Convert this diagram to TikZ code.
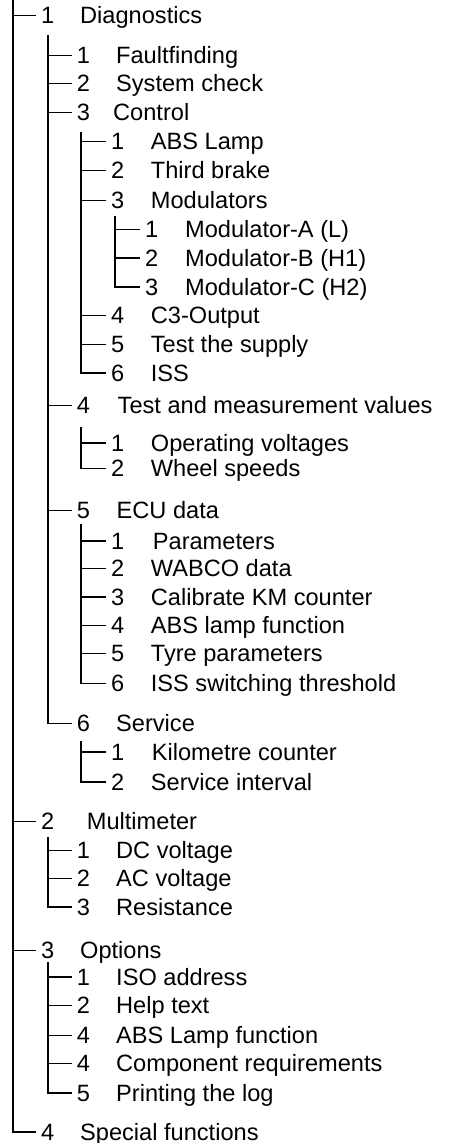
\documentclass[tikz,border=0pt]{standalone}
\usepackage{fontspec}
\setmainfont{Liberation Sans}
\begin{document}
\begin{tikzpicture}[x=1pt,y=1pt,
  font=\fontsize{23.6pt}{28pt}\selectfont,
  num/.style={anchor=base west, yshift=-8.4pt, inner xsep=5pt, inner ysep=0pt},
  lbl/.style={anchor=base west, yshift=-8.4pt, inner sep=0pt},
  tick/.style={line width=1.3pt},
  vline/.style={line width=2pt, line cap=rect}]
\useasboundingbox (0,0) rectangle (449,-1143);
\newcommand\treeitem[7]{%
  \node[num] (n#1) at (#3,-#5) {#6};
  \node[lbl] (t#1) at (#4,-#5) {#7};
  \draw[tick] (#2 |- n#1.west) -- (n#1.west);
}
% vertical line origins
\coordinate (v0) at (13,2);
\coordinate (vDiag) at (48.3,-36);
\coordinate (vCtrl) at (81,-133);
\coordinate (vMod) at (115,-216.7);
\coordinate (vTest) at (81,-427.7);
\coordinate (vEcu) at (81,-525);
\coordinate (vServ) at (81,-741.7);
\coordinate (vMulti) at (48.3,-837.7);
\coordinate (vOpt) at (48.3,-963);
% level 0
\treeitem{diag}{v0}{36}{80}{15}{1}{Diagnostics}
\treeitem{multi}{v0}{36}{86.7}{821}{2}{Multimeter}
\treeitem{opt}{v0}{36}{80}{950.5}{3}{Options}
\treeitem{spec}{v0}{36}{80}{1131.7}{4}{Special functions}
% under Diagnostics
\treeitem{fault}{vDiag}{71.7}{116}{55}{1}{Faultfinding}
\treeitem{sys}{vDiag}{71.7}{116}{83.5}{2}{System check}
\treeitem{ctrl}{vDiag}{71.7}{113}{112}{3}{Control}
\treeitem{test}{vDiag}{71.7}{117.5}{405}{4}{Test and measurement values}
\treeitem{ecu}{vDiag}{71.7}{116.5}{510}{5}{ECU data}
\treeitem{serv}{vDiag}{71.7}{116}{723}{6}{Service}
% under Control
\treeitem{abs}{vCtrl}{106}{150.7}{141.5}{1}{ABS Lamp}
\treeitem{third}{vCtrl}{106}{150.7}{170}{2}{Third brake}
\treeitem{mod}{vCtrl}{106}{150.7}{200}{3}{Modulators}
\treeitem{c3}{vCtrl}{106}{150.7}{315.3}{4}{C3-Output}
\treeitem{supply}{vCtrl}{106}{150.7}{344}{5}{Test the supply}
\treeitem{iss}{vCtrl}{106}{150.7}{372.7}{6}{ISS}
% under Modulators
\treeitem{ma}{vMod}{140}{185}{229.3}{1}{Modulator-A (L)}
\treeitem{mb}{vMod}{140}{185}{257.7}{2}{Modulator-B (H1)}
\treeitem{mc}{vMod}{140}{185}{286.7}{3}{Modulator-C (H2)}
% under Test and measurement values
\treeitem{opv}{vTest}{106}{150.7}{442.7}{1}{Operating voltages}
\treeitem{wheel}{vTest}{106}{150.7}{468.3}{2}{Wheel speeds}
% under ECU data
\treeitem{par}{vEcu}{106}{152.7}{540.7}{1}{Parameters}
\treeitem{wabco}{vEcu}{106}{150.7}{568}{2}{WABCO data}
\treeitem{calib}{vEcu}{106}{150.7}{596.7}{3}{Calibrate KM counter}
\treeitem{absf}{vEcu}{106}{150.7}{625}{4}{ABS lamp function}
\treeitem{tyre}{vEcu}{106}{150.7}{653.3}{5}{Tyre parameters}
\treeitem{isssw}{vEcu}{106}{150.7}{683}{6}{ISS switching threshold}
% under Service
\treeitem{km}{vServ}{106}{151.7}{751.7}{1}{Kilometre counter}
\treeitem{sint}{vServ}{106}{150.7}{781.7}{2}{Service interval}
% under Multimeter
\treeitem{dc}{vMulti}{71.7}{116}{850}{1}{DC voltage}
\treeitem{ac}{vMulti}{71.7}{116}{878.3}{2}{AC voltage}
\treeitem{res}{vMulti}{71.7}{116}{906.7}{3}{Resistance}
% under Options
\treeitem{iso}{vOpt}{71.7}{116}{976.7}{1}{ISO address}
\treeitem{help}{vOpt}{71.7}{116}{1005}{2}{Help text}
\treeitem{absl}{vOpt}{71.7}{116}{1035}{4}{ABS Lamp function}
\treeitem{comp}{vOpt}{71.7}{116}{1063.3}{4}{Component requirements}
\treeitem{print}{vOpt}{71.7}{116}{1092.7}{5}{Printing the log}
% vertical lines
\draw[vline] (v0) -- (v0 |- nspec.west);
\draw[vline] (vDiag) -- (vDiag |- nserv.west);
\draw[vline] (vCtrl) -- (vCtrl |- niss.west);
\draw[vline] (vMod) -- (vMod |- nmc.west);
\draw[vline] (vTest) -- (vTest |- nwheel.west);
\draw[vline] (vEcu) -- (vEcu |- nisssw.west);
\draw[vline] (vServ) -- (vServ |- nsint.west);
\draw[vline] (vMulti) -- (vMulti |- nres.west);
\draw[vline] (vOpt) -- (vOpt |- nprint.west);
\end{tikzpicture}
\end{document}
